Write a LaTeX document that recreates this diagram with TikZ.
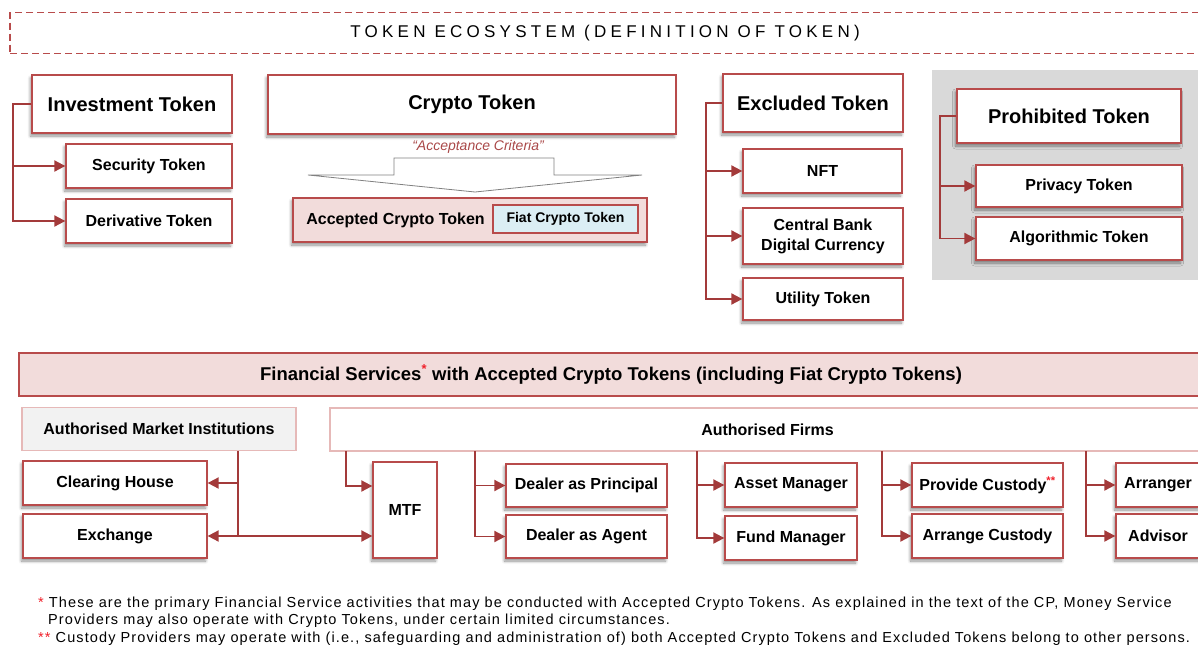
\documentclass[tikz,border=0pt]{standalone}
\usepackage{fontspec}
\setmainfont{Liberation Sans}
\newfontfamily\notefont{Liberation Sans}[LetterSpace=7.6]
\usepackage{xcolor}
\usetikzlibrary{arrows.meta, shadows.blur}
\definecolor{boxred}{HTML}{B84B4B}
\definecolor{linkred}{HTML}{A33A3A}
\definecolor{lightrose}{HTML}{E6B9B8}
\definecolor{pinkfill}{HTML}{F2DCDB}
\definecolor{fiatblue}{HTML}{DBEEF4}
\definecolor{amigray}{HTML}{F2F2F2}
\definecolor{panelgray}{HTML}{D9D9D9}
\definecolor{criteriared}{HTML}{A94848}
\definecolor{starred}{HTML}{F0202A}
\tikzset{
    tokbox/.style={draw=boxred, line width=1.3pt, fill=white, inner sep=0pt, align=center,
        font=\bfseries\fontsize{16}{20}\selectfont,
        blur shadow={shadow xshift=-1.5pt, shadow yshift=-3pt, shadow blur radius=3pt, shadow blur steps=6, shadow opacity=45}},
    headbox/.style={tokbox, font=\bfseries\fontsize{20}{24}\selectfont},
    subbox/.style={tokbox, minimum height=44pt},
    groupbox/.style={draw=lightrose, line width=1.3pt, inner sep=0pt, minimum height=43pt,
        font=\bfseries\fontsize{16}{20}\selectfont},
    conn/.style={draw=linkred, line width=1.9pt, -{Triangle[length=11pt, width=11pt]}},
    note/.style={inner sep=0pt, anchor=base west, font=\notefont\fontsize{14.5}{16}\selectfont}
}

\begin{document}
\begin{tikzpicture}[x=1pt, y=-1pt]
            \useasboundingbox (0,0) rectangle (1198,648);
            \fill[panelgray] (932,70) rectangle (1210,280);

            \node[draw=boxred, line width=1.4pt, dash pattern=on 7pt off 4pt, minimum width=1190pt, minimum height=41pt, font=\fontsize{17}{20}\selectfont] (title) at (605,33) {\addfontfeature{LetterSpace=25}TOKEN ECOSYSTEM (DEFINITION OF TOKEN)};

            \node[headbox, minimum width=200pt, minimum height=58pt] (invtoken) at (132,104) {Investment Token};
            \node[subbox, minimum width=166pt] (sectoken) at (149,166) {Security Token};
            \node[subbox, minimum width=166pt] (dertoken) at (149,221) {Derivative Token};

            \node[headbox, minimum width=408pt, minimum height=59pt] (cryptotoken) at (472,104.5) {Crypto Token};
            \node[font=\itshape\fontsize{14}{16}\selectfont, text=criteriared] (criteria) at (478,147) {“Acceptance Criteria”};
            \draw[gray, line width=0.8pt, fill=white] (394,158) -- (554,158) -- (554,175) -- (642,175) -- (475,192) -- (308,175) -- (394,175) -- cycle;
            \node[tokbox, fill=pinkfill, minimum width=354pt, minimum height=44pt] (acctoken) at (470,220) {};
            \node[font=\bfseries\fontsize{16}{20}\selectfont] (acclabel) at (395.5,220) {Accepted Crypto Token};
            \node[draw=boxred, line width=1.1pt, fill=fiatblue, minimum width=145pt, minimum height=28pt, inner sep=0pt, font=\bfseries\fontsize{14}{16}\selectfont] (fiattoken) at (565.5,219) {Fiat Crypto Token};

            \node[headbox, minimum width=180pt, minimum height=58pt] (excltoken) at (813,103) {Excluded Token};
            \node[subbox, minimum width=159pt] (nfttoken) at (822.5,171) {NFT};
            \node[subbox, minimum width=160pt, minimum height=56pt] (cbdctoken) at (823,236) {Central Bank\\Digital Currency};
            \node[subbox, minimum width=160pt, minimum height=42pt] (utiltoken) at (823,299) {Utility Token};

            \node[headbox, minimum width=224pt, minimum height=54pt] (prohtoken) at (1069,116) {Prohibited Token};
            \node[subbox, minimum width=206pt, minimum height=42pt] (privtoken) at (1079,186) {Privacy Token};
            \node[subbox, minimum width=206pt, minimum height=43pt] (algotoken) at (1079,238.5) {Algorithmic Token};

            \draw[conn] (invtoken.west) -- ++(-18,0) |- (sectoken.west);
            \draw[conn] (invtoken.west) -- ++(-18,0) |- (dertoken.west);
            \draw[conn] (excltoken.west) -- ++(-16,0) |- (nfttoken.west);
            \draw[conn] (excltoken.west) -- ++(-16,0) |- (cbdctoken.west);
            \draw[conn] (excltoken.west) -- ++(-16,0) |- (utiltoken.west);
            \draw[conn] (prohtoken.west) -- ++(-16,0) |- (privtoken.west);
            \draw[conn] (prohtoken.west) -- ++(-16,0) |- (algotoken.west);

            \node[draw=boxred, line width=1.3pt, fill=pinkfill, minimum width=1184pt, minimum height=43pt, font=\bfseries\fontsize{18.5}{22}\selectfont] (services) at (611,374.5) {Financial Services\textcolor{starred}{\textsuperscript{*}} with Accepted Crypto Tokens (including Fiat Crypto Tokens)};
            \node[groupbox, fill=amigray, minimum width=274pt] (amifirms) at (159,429) {Authorised Market Institutions};
            \node[groupbox, fill=white, minimum width=875pt] (authfirms) at (767.5,429.5) {Authorised Firms};

            \node[subbox, minimum width=184pt] (clearing) at (115,483) {Clearing House};
            \node[subbox, minimum width=184pt] (exchange) at (115,536) {Exchange};
            \node[tokbox, minimum width=64pt, minimum height=96pt] (mtf) at (405,510) {MTF};
            \node[subbox, minimum width=161pt, minimum height=43pt] (dprincipal) at (586.5,485.5) {Dealer as Principal};
            \node[subbox, minimum width=161pt, minimum height=43pt] (dagent) at (586.5,536.5) {Dealer as Agent};
            \node[subbox, minimum width=132pt] (assetmgr) at (791,485) {Asset Manager};
            \node[subbox, minimum width=132pt] (fundmgr) at (791,538) {Fund Manager};
            \node[subbox, minimum width=151pt] (pcustody) at (987.5,485) {Provide Custody\textcolor{starred}{\textsuperscript{**}}};
            \node[subbox, minimum width=151pt] (acustody) at (987.5,536) {Arrange Custody};
            \node[subbox, minimum width=84pt] (arranger) at (1158,485) {Arranger};
            \node[subbox, minimum width=84pt] (advisor) at (1158,536) {Advisor};

            \coordinate (amifoot) at (238,451);
            \coordinate (firmfoot1) at (346,451);
            \coordinate (firmfoot2) at (475,451);
            \coordinate (firmfoot3) at (697,451);
            \coordinate (firmfoot4) at (882,451);
            \coordinate (firmfoot5) at (1086,451);

            \draw[conn] (amifoot) |- (clearing.east);
            \draw[conn] (amifoot) |- (exchange.east);
            \draw[conn] (exchange.east -| amifoot) -- (exchange.east -| mtf.west);
            \draw[conn] (firmfoot1) |- ([yshift=24pt]mtf.west);
            \draw[conn] (firmfoot2) |- (dprincipal.west);
            \draw[conn] (firmfoot2) |- (dagent.west);
            \draw[conn] (firmfoot3) |- (assetmgr.west);
            \draw[conn] (firmfoot3) |- (fundmgr.west);
            \draw[conn] (firmfoot4) |- (pcustody.west);
            \draw[conn] (firmfoot4) |- (acustody.west);
            \draw[conn] (firmfoot5) |- (arranger.west);
            \draw[conn] (firmfoot5) |- (advisor.west);

            \node[note] (note1) at (38,607) {\textcolor{starred}{*} These are the primary Financial Service activities that may be conducted with Accepted Crypto Tokens. As explained in the text of the CP, Money Service};
            \node[note] (note2) at (48,624) {Providers may also operate with Crypto Tokens, under certain limited circumstances.};
            \node[note] (note3) at (38,642) {\textcolor{starred}{**} Custody Providers may operate with (i.e., safeguarding and administration of) both Accepted Crypto Tokens and Excluded Tokens belong to other persons.};
\end{tikzpicture}
\end{document}
